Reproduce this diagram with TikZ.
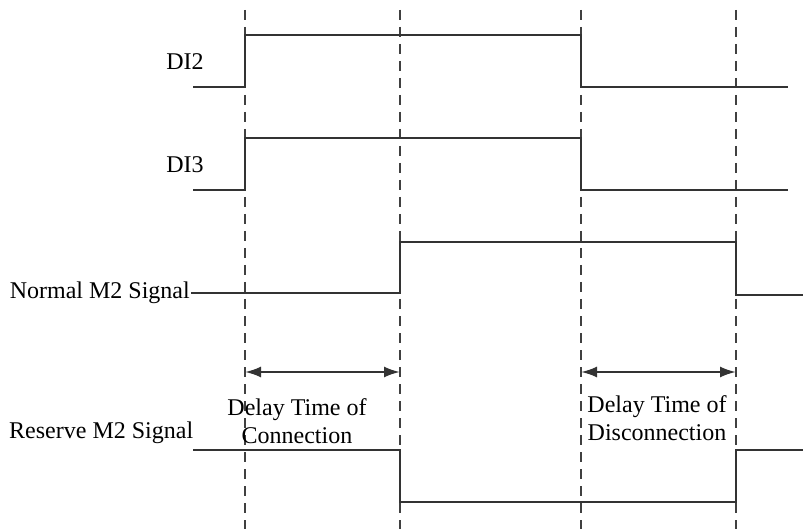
\documentclass[tikz,border=0pt]{standalone}
\usepackage{fontspec}
\setmainfont{Liberation Serif}
\usetikzlibrary{positioning,arrows.meta}

\begin{document}
\begin{tikzpicture}[
    x=1pt, y=-1pt,
    signal/.style={line width=2.4pt, draw=black!80},
    marker/.style={dash pattern=on 10pt off 7pt, line width=2pt, draw=black!75},
    span/.style={{Latex[length=16pt,width=11pt]}-{Latex[length=16pt,width=11pt]}, line width=2.2pt, draw=black!80},
    signame/.style={font=\fontsize{24}{28}\selectfont, inner sep=1pt},
    note/.style={font=\fontsize{24}{28}\selectfont, align=center, inner sep=0pt}
]
\useasboundingbox (0,0) rectangle (803,529);

% Dashed guide lines at the switching times
\foreach \x in {245,400,581,736}
    \draw[marker] (\x,10) -- (\x,529);

% Signal names
\node[signame] (di2) at (185,62) {DI2};
\node[signame] (di3) at (185,165) {DI3};
\node[signame, anchor=east] (normal) at (191,293) {Normal M2 Signal};
\node[signame, anchor=west] (reserve) at (8,433) {Reserve M2 Signal};

% Waveforms
\draw[signal] (193,87) -- (245,87) -- (245,35) -- (581,35) -- (581,87) -- (788,87);
\draw[signal] (193,190) -- (245,190) -- (245,138) -- (581,138) -- (581,190) -- (788,190);
\draw[signal] (normal.east) -- (400,293) -- (400,242) -- (736,242) -- (736,295) -- (803,295);
\draw[signal] (193,450) -- (400,450) -- (400,502) -- (736,502) -- (736,450) -- (803,450);

% Delay spans
\coordinate (a1) at (245,372);
\coordinate (a2) at (400,372);
\coordinate (a3) at (581,372);
\coordinate (a4) at (736,372);
\draw[span] (a1) -- (a2);
\draw[span] (a3) -- (a4);

\node[note] (con) at (297,421) {Delay Time of\\Connection};
\node[note] (dis) at (657,418) {Delay Time of\\Disconnection};

\end{tikzpicture}
\end{document}
